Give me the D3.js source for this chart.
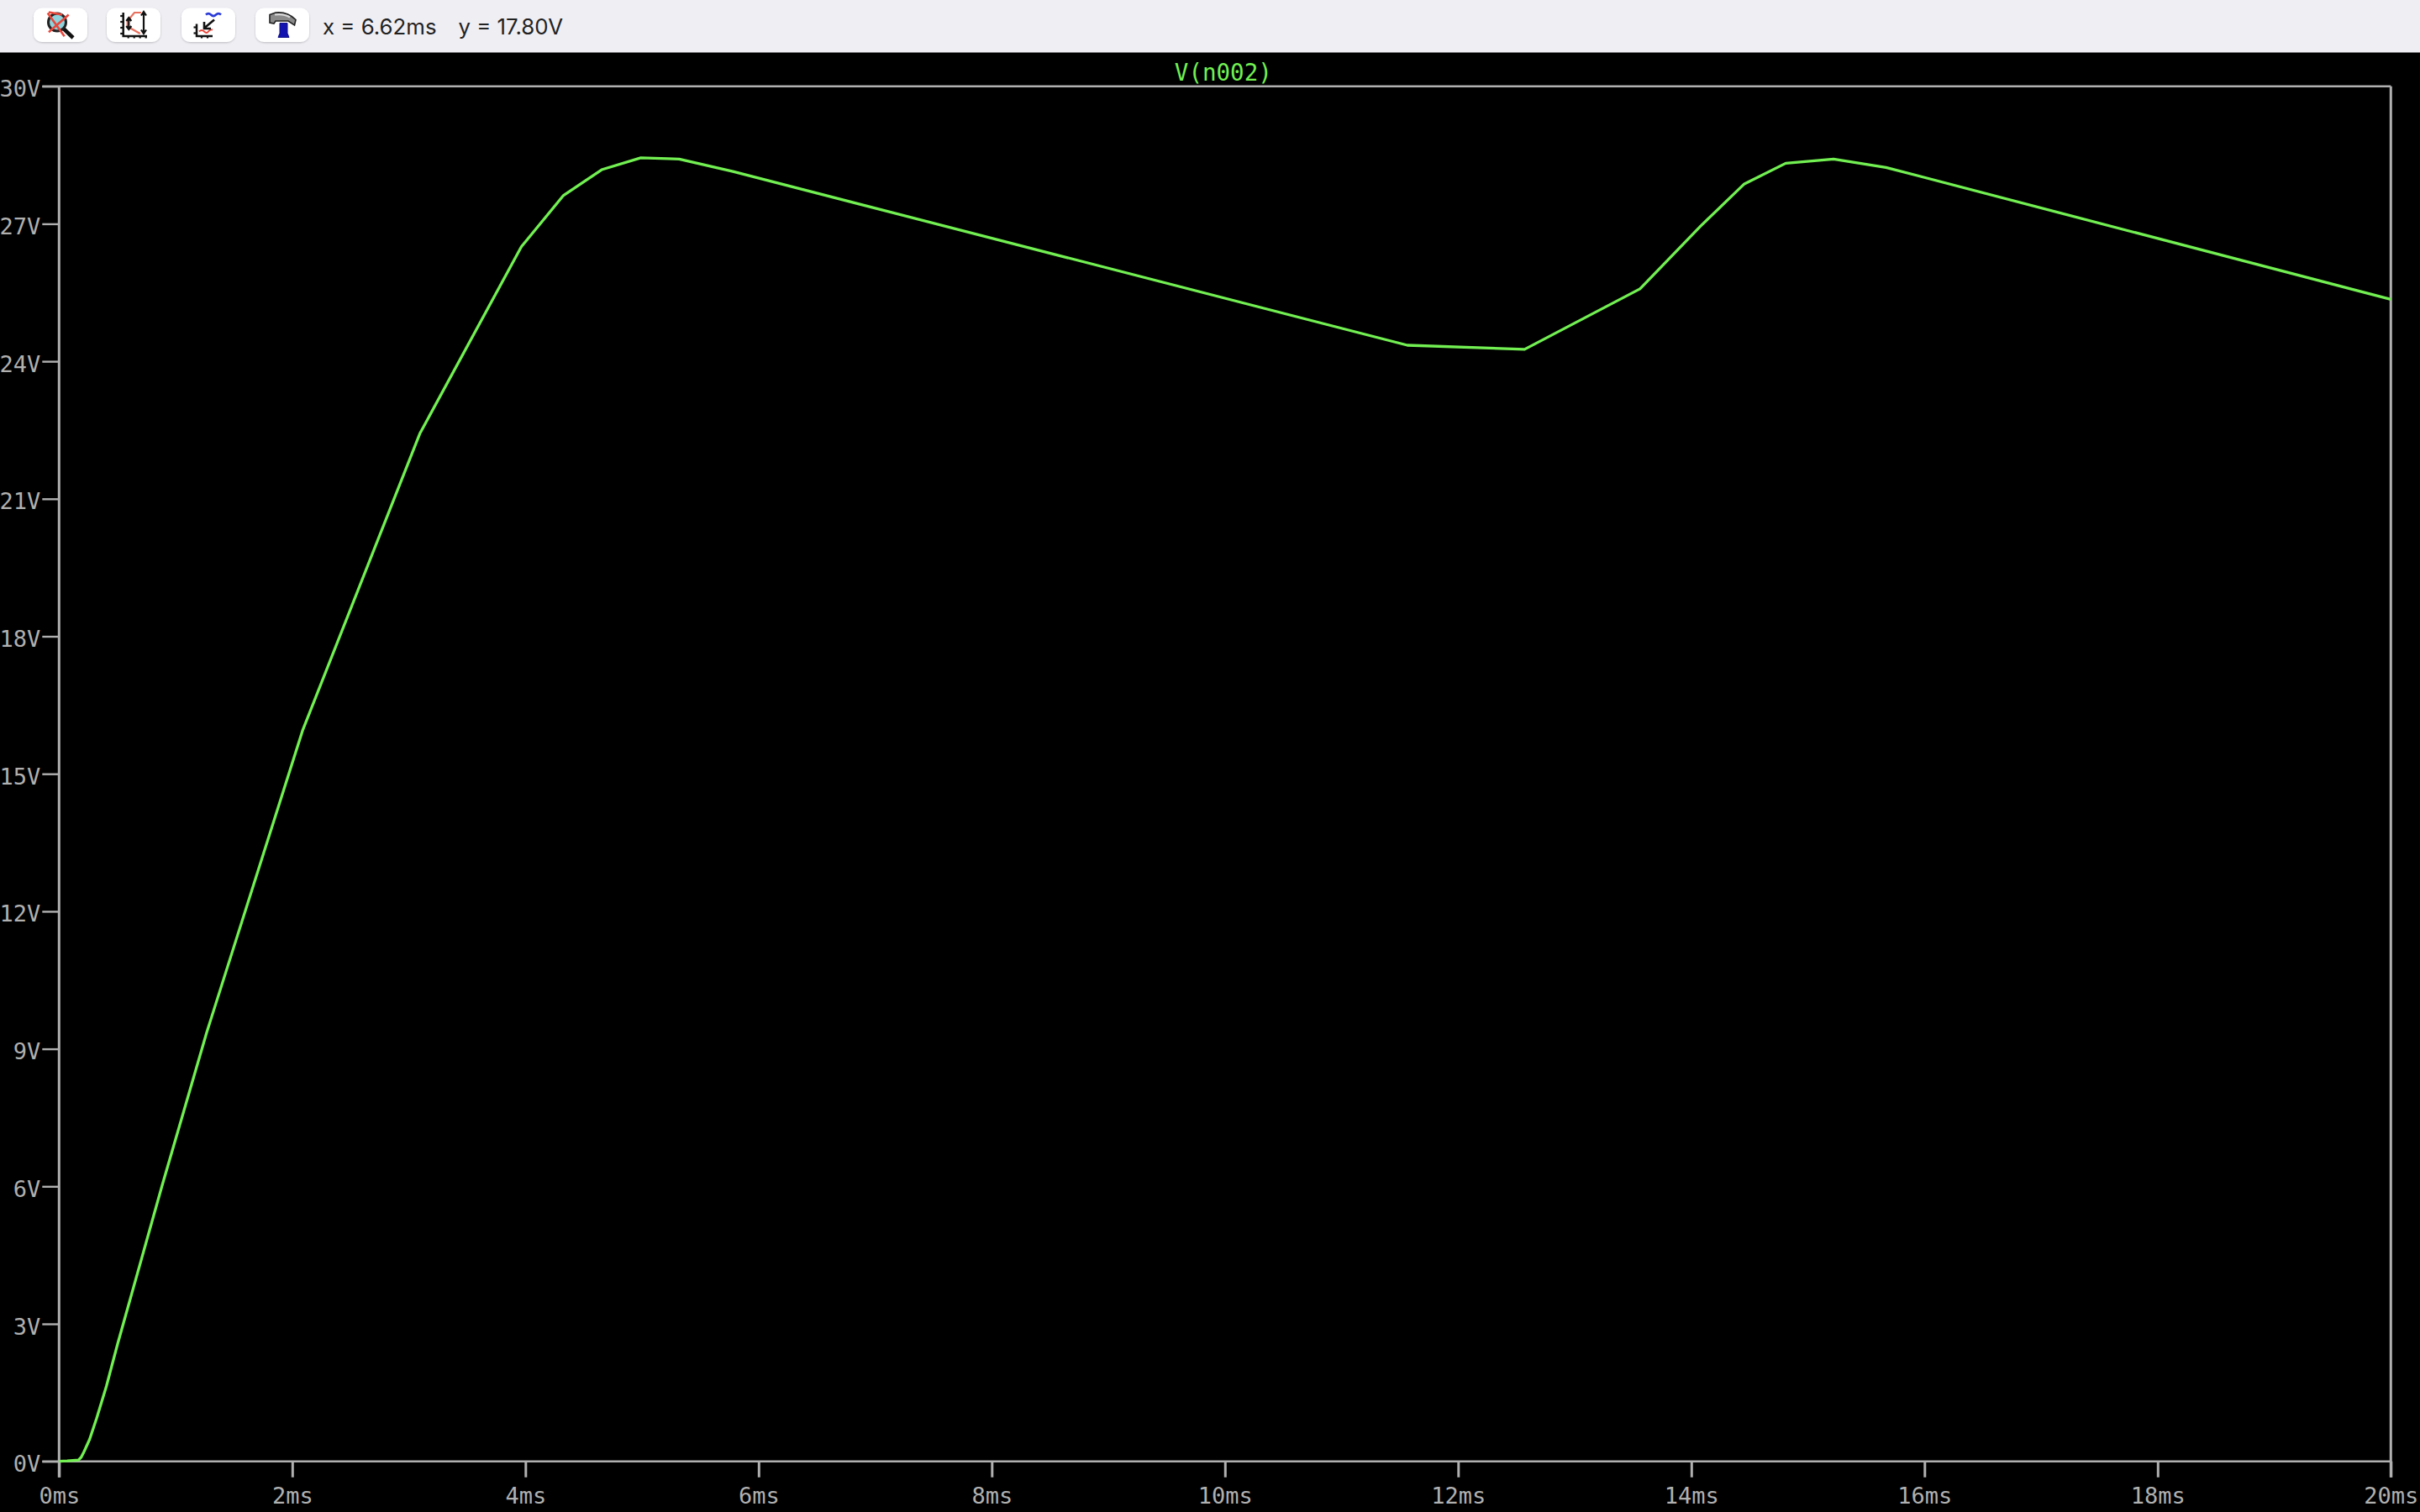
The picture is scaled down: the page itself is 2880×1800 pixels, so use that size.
<!DOCTYPE html>
<html><head><meta charset="utf-8">
<style>html,body{margin:0;padding:0;background:#000;width:2880px;height:1800px;overflow:hidden}svg{display:block}</style>
<script src="https://cdn.jsdelivr.net/npm/d3@7"></script></head>
<body><svg id="c" width="2880" height="1800" xmlns="http://www.w3.org/2000/svg"></svg>
<script>
const timeMs=[0,0.07,0.166,0.19,0.214,0.262,0.322,0.406,0.502,0.882,1.266,2.088,3.094,3.965,4.327,4.654,4.99,5.223,5.319,5.78,11.565,12.57,13.56,14.08,14.455,14.81,15.22,15.67,20];
const volts=[0,0.01,0.03,0.09,0.21,0.48,0.94,1.64,2.56,6.0,9.355,15.94,22.42,26.5,27.62,28.18,28.44,28.42,28.41,28.14,24.35,24.26,25.58,26.95,27.87,28.32,28.41,28.23,25.35];
const xTickValues=[0,2,4,6,8,10,12,14,16,18,20];
const xTickLabels=["0ms","2ms","4ms","6ms","8ms","10ms","12ms","14ms","16ms","18ms","20ms"];
const yTickValues=[0,3,6,9,12,15,18,21,24,27,30];
const yTickLabels=["0V","3V","6V","9V","12V","15V","18V","21V","24V","27V","30V"];
const traceName="V(n002)";
const cursorX="x = 6.62ms", cursorY="y = 17.80V";

const grey="#b0b0b0", green="#72f052", mono="'DejaVu Sans Mono'";
const svg=d3.select("#c");
const L=70.3,R=2845.3,T=102.7,B=1739.7;
const x=d3.scaleLinear().domain([0,20]).range([L,R]);
const y=d3.scaleLinear().domain([0,30]).range([B,T]);

svg.append("rect").attr("width",2880).attr("height",1800).attr("fill","#000");
// toolbar
svg.append("rect").attr("width",2880).attr("height",62.5).attr("fill","#efeef3");
const defs=svg.append("defs");
const f=defs.append("filter").attr("id","sh").attr("x","-20%").attr("y","-20%").attr("width","140%").attr("height","150%");
f.append("feDropShadow").attr("dx",0).attr("dy",1).attr("stdDeviation",1.2).attr("flood-color","#000").attr("flood-opacity",0.22);
const bx=[40,127,216,304];
bx.forEach(b=>svg.append("rect").attr("x",b).attr("y",9.5).attr("width",64).attr("height",40.5).attr("rx",10).attr("fill","#fff").attr("filter","url(#sh)"));
function icon(i,fn){const g=svg.append("g").attr("transform",`translate(${bx[i]},9.5)`);fn(g);}
const P=(g,d,c,w,fill)=>g.append("path").attr("d",d).attr("stroke",c).attr("stroke-width",w).attr("fill",fill||"none");
icon(0,g=>{
  g.append("circle").attr("cx",28).attr("cy",17).attr("r",10.5).attr("fill","#8fd3dc").attr("stroke","#222").attr("stroke-width",3);
  P(g,"M36 25L47 35.5","#111",4.5);
  P(g,"M16.7 6L36.7 33.8M41.7 8L18 28.8M18 5L34 8","#e8483c",2.6);
});
function axesIcon(g,ox,top,right){
  P(g,`M${ox} ${top}V33.5H${right}`,"#111",2.5);
  for(let v=top+4;v<33;v+=7) P(g,`M${ox-3.5} ${v}h4`,"#111",2.2);
  for(let h=ox+6;h<right;h+=7) P(g,`M${h} 33v3`,"#111",2.2);
}
icon(1,g=>{
  axesIcon(g,19.7,5.5,48);
  P(g,"M41 5.5H33L24.7 15.5V22L39.7 30.5","#e8705e",2.2);
  P(g,"M26.3 12V25M23.3 15.5L26.3 11.5L29.3 15.5M23.3 21.5L26.3 25.5L29.3 21.5","#111",2.2);
  P(g,"M44 5V29.5M41 9L44 4.5L47 9M41 26L44 30.5L47 26","#111",2.2);
});
icon(2,g=>{
  axesIcon(g,18,19,37);
  P(g,"M29 8q3 -3 6 0t6 0t6 0","#2a3bd8",2.6);
  P(g,"M21 28q3 -3 6 0t5 0t5 -2","#e8483c",2);
  P(g,"M39 14L27 24M27 16.5V24.5H35","#111",2.6);
});
icon(3,g=>{
  P(g,"M29 18H38V30L40 35H27L29 30Z","#101088",1,"#1212b0");
  P(g,"M17 8L24 5.5C34 4.5 42 8 48 14L46.5 20.5L39 15.5H24L22 18.5L17 17.5Z","#222",1.6,"#8a8a8a");
  P(g,"M23 8C29 7 36 8 41 11","#d8d8d8",2.2);
});
svg.append("text").attr("x",384).attr("y",40.5).text(cursorX).attr("font-family","Inter").attr("font-size",25.8).attr("fill","#222");
svg.append("text").attr("x",545.5).attr("y",40.5).text(cursorY).attr("font-family","Inter").attr("font-size",25.8).attr("fill","#222");

// axes
const xAxis=d3.axisBottom(x).tickValues(xTickValues).tickSize(19).tickPadding(12).tickFormat((d,i)=>xTickLabels[i]);
const yAxis=d3.axisLeft(y).tickValues(yTickValues).tickSize(20).tickPadding(2).tickFormat((d,i)=>yTickLabels[i]);
const gx=svg.append("g").attr("transform",`translate(0,${B})`).call(xAxis);
const gy=svg.append("g").attr("transform",`translate(${L},0)`).call(yAxis);
gx.selectAll(".tick line").attr("stroke",grey).attr("stroke-width",3);
gy.selectAll(".tick line").attr("stroke",grey).attr("stroke-width",2.4);
[gx,gy].forEach(g=>{
  g.select(".domain").remove();
  g.attr("font-family",null);
  g.selectAll("text").attr("font-family",mono).attr("font-size",27).attr("fill",grey);
});
gy.selectAll("text").attr("dy","12px");
// plot frame
const frame=svg.append("g").attr("stroke",grey);
frame.append("line").attr("x1",L-20).attr("x2",R).attr("y1",T).attr("y2",T).attr("stroke-width",2.4);
frame.append("line").attr("x1",L-20).attr("x2",R).attr("y1",B).attr("y2",B).attr("stroke-width",2.4);
frame.append("line").attr("x1",L).attr("x2",L).attr("y1",T).attr("y2",B+19).attr("stroke-width",3);
frame.append("line").attr("x1",R).attr("x2",R).attr("y1",T).attr("y2",B+19).attr("stroke-width",3);
// title
svg.append("text").attr("x",(L+R)/2-2).attr("y",95.5).attr("text-anchor","middle").text(traceName)
  .attr("font-family",mono).attr("font-size",27.5).attr("fill",green);
// trace
const line=d3.line().x((d,i)=>x(timeMs[i])).y(d=>y(d)).curve(d3.curveLinear);
svg.append("path").datum(volts).attr("d",line).attr("fill","none").attr("stroke",green).attr("stroke-width",3.3).attr("stroke-linejoin","round");
</script></body></html>
